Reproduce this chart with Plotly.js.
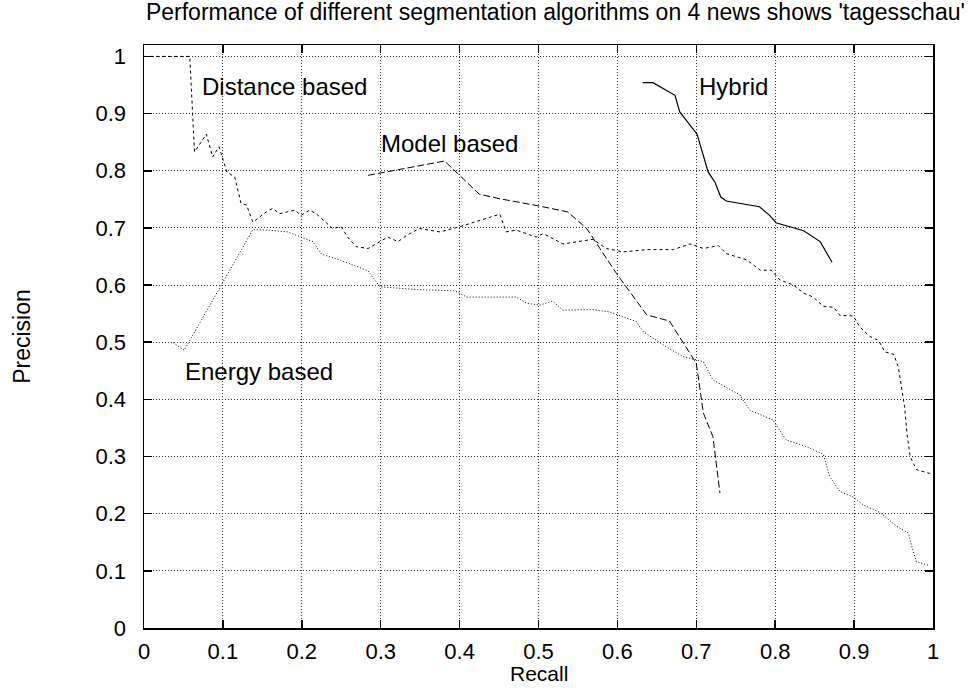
<!DOCTYPE html>
<html>
<head>
<meta charset="utf-8">
<script src="https://cdn.plot.ly/plotly-3.0.1.min.js"></script>
<style>html,body{margin:0;padding:0;background:#fff;}#chart{width:973px;height:688px;}</style>
</head>
<body>
<div id="chart"></div>
<script>
var distanceX = [0.0,0.058,0.064,0.079,0.087,0.095,0.105,0.115,0.123,0.130,0.138,0.155,0.163,0.172,0.191,0.199,0.210,0.218,0.239,0.250,0.258,0.269,0.284,0.299,0.309,0.322,0.333,0.349,0.375,0.400,0.425,0.451,0.459,0.472,0.497,0.506,0.531,0.569,0.586,0.607,0.637,0.671,0.692,0.709,0.728,0.738,0.764,0.781,0.795,0.806,0.823,0.836,0.848,0.861,0.874,0.882,0.899,0.907,0.920,0.931,0.939,0.950,0.956,0.960,0.964,0.967,0.971,0.979,0.992,0.997];
var distanceY = [1.0,1.0,0.833,0.864,0.824,0.842,0.798,0.789,0.743,0.740,0.710,0.728,0.734,0.725,0.731,0.722,0.731,0.725,0.699,0.702,0.684,0.667,0.664,0.676,0.684,0.676,0.687,0.699,0.693,0.702,0.713,0.724,0.693,0.696,0.684,0.690,0.672,0.680,0.664,0.658,0.662,0.662,0.672,0.664,0.669,0.655,0.644,0.626,0.626,0.609,0.600,0.586,0.579,0.563,0.561,0.547,0.546,0.527,0.510,0.503,0.483,0.479,0.457,0.422,0.387,0.341,0.300,0.277,0.271,0.270];

var energyX = [0.037,0.051,0.098,0.138,0.159,0.182,0.199,0.214,0.225,0.248,0.284,0.299,0.347,0.394,0.409,0.472,0.485,0.502,0.518,0.531,0.569,0.590,0.624,0.633,0.662,0.683,0.709,0.721,0.755,0.768,0.797,0.814,0.840,0.861,0.869,0.882,0.899,0.912,0.933,0.954,0.969,0.973,0.979,0.996];
var energyY = [0.499,0.486,0.600,0.697,0.696,0.693,0.684,0.676,0.654,0.644,0.625,0.597,0.592,0.590,0.579,0.579,0.568,0.565,0.572,0.556,0.557,0.553,0.536,0.518,0.492,0.475,0.466,0.434,0.408,0.381,0.364,0.329,0.317,0.304,0.265,0.239,0.229,0.215,0.202,0.178,0.166,0.143,0.116,0.109];

var modelX = [0.284,0.324,0.381,0.425,0.451,0.502,0.537,0.561,0.599,0.637,0.666,0.700,0.709,0.721,0.730];
var modelY = [0.792,0.802,0.817,0.759,0.751,0.738,0.728,0.699,0.620,0.548,0.537,0.463,0.376,0.335,0.236];

var hybridX = [0.632,0.645,0.673,0.679,0.701,0.715,0.724,0.731,0.738,0.780,0.793,0.801,0.836,0.857,0.872];
var hybridY = [0.954,0.954,0.932,0.903,0.864,0.798,0.779,0.754,0.747,0.737,0.722,0.709,0.695,0.676,0.640];

var tickVals = [0,0.1,0.2,0.3,0.4,0.5,0.6,0.7,0.8,0.9,1];
var tickText = ['0','0.1','0.2','0.3','0.4','0.5','0.6','0.7','0.8','0.9','1'];

var FONT = '"Liberation Sans", Arial, Helvetica, sans-serif';

var traces = [
  {x: distanceX, y: distanceY, name: 'Distance based', mode: 'lines', line: {color: '#000', width: 1, dash: '3px,3px'}},
  {x: energyX, y: energyY, name: 'Energy based', mode: 'lines', line: {color: '#000', width: 1, dash: '1px,2px'}},
  {x: modelX, y: modelY, name: 'Model based', mode: 'lines', line: {color: '#000', width: 1, dash: '7px,3px'}},
  {x: hybridX, y: hybridY, name: 'Hybrid', mode: 'lines', line: {color: '#000', width: 1.2}}
];

var axisCommon = {
  tickvals: tickVals, ticktext: tickText,
  ticks: 'inside', ticklen: 8, tickwidth: 1.5, tickcolor: '#000',
  showline: true, linecolor: '#000', linewidth: 1.5, mirror: 'ticks',
  showgrid: true, gridcolor: '#333', gridwidth: 1, griddash: '1px,2px',
  zeroline: false,
  tickfont: {family: FONT, size: 22, color: '#000'}
};

var layout = {
  width: 973, height: 688,
  margin: {l: 144, r: 40, t: 45, b: 60},
  paper_bgcolor: '#fff', plot_bgcolor: '#fff',
  showlegend: false,
  font: {family: FONT, color: '#000'},
  title: {text: "Performance of different segmentation algorithms on 4 news shows 'tagesschau'",
          font: {family: FONT, size: 23, color: '#000'},
          xref: 'container', x: 0.150, xanchor: 'left', yref: 'container', y: 0.982, yanchor: 'middle'},
  xaxis: Object.assign({}, axisCommon, {
    range: [0, 1], ticklabelstandoff: 3
  }),
  yaxis: Object.assign({}, axisCommon, {
    range: [0, 1.02], ticklabelstandoff: 12,
    title: {text: 'Precision', font: {family: FONT, size: 23, color: '#000'}, standoff: 58}
  }),
  annotations: [
    {text: 'Recall', x: 0.5, y: -0.1, xref: 'paper', yref: 'paper', xanchor: 'center', yanchor: 'bottom', showarrow: false, borderpad: 0, font: {family: FONT, size: 21, color: '#000'}},
    {text: 'Distance based', x: 0.0704, y: 0.948, xref: 'x', yref: 'y', xanchor: 'left', yanchor: 'middle', showarrow: false, font: {family: FONT, size: 24, color: '#000'}},
    {text: 'Model based', x: 0.2975, y: 0.848, xref: 'x', yref: 'y', xanchor: 'left', yanchor: 'middle', showarrow: false, font: {family: FONT, size: 24, color: '#000'}},
    {text: 'Hybrid', x: 0.701, y: 0.948, xref: 'x', yref: 'y', xanchor: 'left', yanchor: 'middle', showarrow: false, font: {family: FONT, size: 24, color: '#000'}},
    {text: 'Energy based', x: 0.050, y: 0.4496, xref: 'x', yref: 'y', xanchor: 'left', yanchor: 'middle', showarrow: false, font: {family: FONT, size: 24, color: '#000'}}
  ]
};

Plotly.newPlot('chart', traces, layout, {staticPlot: true, displayModeBar: false});
</script>
</body>
</html>
